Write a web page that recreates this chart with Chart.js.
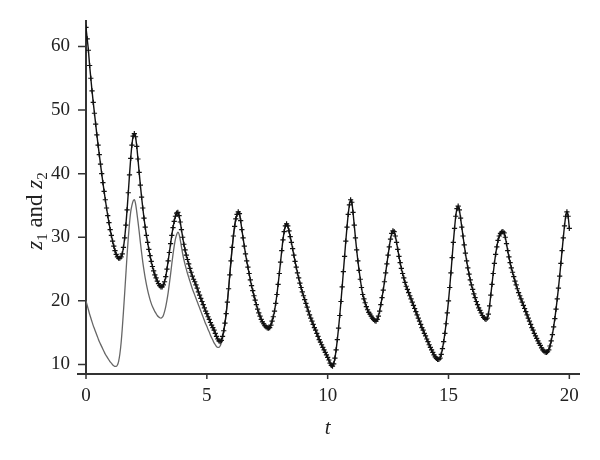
<!DOCTYPE html>
<html>
<head>
<meta charset="utf-8">
<script src="https://cdn.jsdelivr.net/npm/chart.js@4"></script>
<style>
  html, body { margin: 0; padding: 0; background: #fff; }
  canvas { display: block; }
</style>
</head>
<body>
<canvas id="c" width="600" height="460"></canvas>
<script>
// sample spacing of the time axis t
const timeStep = 0.05;

// z1 (black crosses), t = 0 .. 20
const z1Values = [
  63.0, 61.2, 59.4, 57.0, 55.0, 53.0, 51.2, 49.5, 47.8, 46.1,
  44.5, 43.0, 41.5, 40.0, 38.6, 37.2, 35.9, 34.6, 33.4, 32.3,
  31.2, 30.3, 29.4, 28.6, 27.9, 27.3, 26.9, 26.7, 26.7, 26.9,
  27.4, 28.4, 29.9, 31.9, 34.3, 37.0, 39.8, 42.4, 44.5, 45.9,
  46.3, 45.8, 44.3, 42.3, 40.2, 38.2, 36.3, 34.6, 33.0, 31.6,
  30.3, 29.2, 28.1, 27.1, 26.2, 25.4, 24.7, 24.1, 23.6, 23.1,
  22.7, 22.4, 22.2, 22.2, 22.5, 23.0, 23.8, 25.0, 26.3, 27.6,
  29.0, 30.3, 31.5, 32.5, 33.3, 33.8, 33.9, 33.4, 32.4, 31.2,
  30.0, 28.9, 28.0, 27.2, 26.5, 25.8, 25.1, 24.5, 23.9, 23.4,
  23.0, 22.5, 22.0, 21.4, 20.9, 20.4, 19.9, 19.4, 18.9, 18.4,
  18.0, 17.5, 17.1, 16.6, 16.2, 15.8, 15.4, 14.9, 14.4, 14.0,
  13.7, 13.6, 13.8, 14.4, 15.3, 16.5, 18.0, 19.8, 21.9, 24.1,
  26.3, 28.4, 30.2, 31.7, 32.9, 33.6, 34.0, 33.7, 32.6, 31.2,
  29.9, 28.6, 27.4, 26.3, 25.3, 24.3, 23.3, 22.4, 21.6, 20.8,
  20.1, 19.4, 18.7, 18.1, 17.6, 17.1, 16.7, 16.4, 16.1, 15.9,
  15.75, 15.7, 15.8, 16.2, 16.8, 17.5, 18.4, 19.6, 21.0, 22.6,
  24.3, 26.1, 27.9, 29.6, 30.9, 31.8, 32.1, 31.8, 31.0, 30.1,
  29.2, 28.2, 27.2, 26.2, 25.3, 24.4, 23.6, 22.8, 22.1, 21.4,
  20.8, 20.2, 19.6, 19.0, 18.4, 17.8, 17.3, 16.8, 16.3, 15.8,
  15.4, 14.9, 14.4, 13.9, 13.5, 13.1, 12.7, 12.3, 11.9, 11.5,
  11.1, 10.7, 10.2, 9.85, 9.75, 10.1, 11.0, 12.3, 13.9, 15.7,
  17.7, 19.9, 22.2, 24.6, 27.0, 29.4, 31.6, 33.6, 35.1, 35.9,
  35.5, 33.9, 31.9, 29.9, 28.0, 26.3, 24.8, 23.4, 22.1, 21.0,
  20.3, 19.7, 19.1, 18.6, 18.2, 17.9, 17.6, 17.3, 17.1, 16.9,
  16.8, 17.1, 17.6, 18.4, 19.4, 20.5, 21.7, 23.0, 24.4, 25.8,
  27.2, 28.5, 29.7, 30.6, 31.0, 30.9, 30.2, 29.2, 28.1, 27.0,
  26.0, 25.1, 24.3, 23.6, 22.9, 22.3, 21.8, 21.3, 20.8, 20.3,
  19.8, 19.3, 18.8, 18.3, 17.8, 17.3, 16.8, 16.3, 15.8, 15.4,
  14.9, 14.5, 14.0, 13.6, 13.1, 12.7, 12.3, 11.9, 11.5, 11.2,
  10.95, 10.8, 10.8, 11.0, 11.6, 12.5, 13.6, 14.9, 16.4, 18.1,
  20.0, 22.1, 24.4, 26.8, 29.2, 31.4, 33.3, 34.5, 34.9, 34.3,
  33.0, 31.6, 30.2, 28.8, 27.5, 26.3, 25.2, 24.2, 23.3, 22.5,
  21.8, 21.1, 20.5, 19.9, 19.4, 18.9, 18.5, 18.1, 17.7, 17.4,
  17.2, 17.1, 17.3, 17.9, 19.2, 20.9, 22.6, 24.3, 25.9, 27.3,
  28.5, 29.5, 30.2, 30.6, 30.8, 30.9, 30.7, 30.0, 29.0, 27.9,
  26.9, 26.0, 25.2, 24.5, 23.8, 23.1, 22.5, 21.9, 21.3, 20.8,
  20.3, 19.8, 19.3, 18.8, 18.3, 17.8, 17.3, 16.8, 16.3, 15.8,
  15.4, 14.9, 14.5, 14.1, 13.7, 13.3, 13.0, 12.6, 12.3, 12.1,
  11.95, 11.9, 12.0, 12.3, 12.9, 13.7, 14.7, 15.9, 17.2, 18.7,
  20.3, 22.0, 23.9, 25.9, 27.9, 29.9, 31.8, 33.3, 34.0, 33.3,
  31.4
];

// z2 (grey line), t = 0 .. 6.4 (afterwards it lies under z1)
const z2Values = [
  20.0, 19.3, 18.6, 17.9, 17.3, 16.7, 16.1, 15.6, 15.1, 14.6,
  14.1, 13.6, 13.2, 12.8, 12.4, 12.0, 11.6, 11.3, 11.0, 10.7,
  10.4, 10.2, 9.95, 9.8, 9.7, 9.7, 9.9, 10.5, 11.6, 13.3,
  15.6, 18.3, 21.2, 24.2, 27.2, 29.9, 32.2, 34.0, 35.0, 35.7,
  35.9, 35.3, 34.0, 32.5, 30.9, 29.2, 27.6, 26.1, 24.8, 23.6,
  22.6, 21.7, 20.9, 20.2, 19.6, 19.1, 18.7, 18.3, 18.0, 17.7,
  17.5, 17.35, 17.3, 17.4, 17.7, 18.3, 19.1, 20.1, 21.3, 22.7,
  24.2, 25.8, 27.3, 28.6, 29.7, 30.4, 30.8, 30.5, 29.6, 28.5,
  27.4, 26.5, 25.7, 25.0, 24.3, 23.7, 23.1, 22.5, 21.9, 21.4,
  20.9, 20.4, 19.9, 19.4, 18.9, 18.4, 17.9, 17.4, 16.9, 16.4,
  16.0, 15.5, 15.1, 14.6, 14.2, 13.8, 13.4, 13.1, 12.8, 12.7,
  12.7, 12.9, 13.4, 14.2, 15.2, 16.4, 18.0, 19.8, 21.9, 24.1,
  26.3, 28.4, 30.2, 31.7, 32.9, 33.6, 34.0, 33.7, 32.6
];

const xTickLabels = [0, 5, 10, 15, 20];
const yTickLabels = [10, 20, 30, 40, 50, 60];

const toPoints = arr => arr.map((v, i) => ({ x: +(i * timeStep).toFixed(2), y: v }));

const SERIF = '"Liberation Serif", "DejaVu Serif", serif';
const AXIS_COLOR = '#333';

const axisDecor = {
  id: 'axisDecor',
  afterDraw(chart) {
    const { ctx, chartArea: a, scales } = chart;
    const xs = scales.x, ys = scales.y;
    ctx.save();
    ctx.strokeStyle = AXIS_COLOR;
    ctx.lineWidth = 1.5;
    ctx.beginPath();
    xs.ticks.forEach(t => {
      const px = xs.getPixelForValue(t.value);
      const len = xTickLabels.includes(t.value) ? 5 : 3;
      ctx.moveTo(px, a.bottom);
      ctx.lineTo(px, a.bottom + len);
    });
    ys.ticks.forEach(t => {
      const py = ys.getPixelForValue(t.value);
      const len = yTickLabels.includes(t.value) ? 8 : 4;
      ctx.moveTo(a.left - len, py);
      ctx.lineTo(a.left, py);
    });
    ctx.stroke();
    ctx.lineWidth = 2;
    ctx.beginPath();
    ctx.moveTo(a.left - 9, a.bottom);
    ctx.lineTo(a.left, a.bottom);
    ctx.stroke();

    // y axis title: z1 and z2 (italic z, subscripts)
    const parts = [
      { s: 'z', font: 'italic 23px ' + SERIF, dy: 0 },
      { s: '1', font: '15px ' + SERIF, dy: 4.5 },
      { s: ' and ', font: '23px ' + SERIF, dy: 0 },
      { s: 'z', font: 'italic 23px ' + SERIF, dy: 0 },
      { s: '2', font: '15px ' + SERIF, dy: 4.5 }
    ];
    let total = 0;
    parts.forEach(p => { ctx.font = p.font; p.w = ctx.measureText(p.s).width; total += p.w; });
    ctx.translate(42, 211);
    ctx.rotate(-Math.PI / 2);
    ctx.fillStyle = '#222';
    ctx.textBaseline = 'alphabetic';
    ctx.textAlign = 'left';
    let cx = -total / 2;
    parts.forEach(p => { ctx.font = p.font; ctx.fillText(p.s, cx, p.dy); cx += p.w; });
    ctx.restore();

    // x axis title: t
    ctx.save();
    ctx.fillStyle = '#222';
    ctx.font = 'italic 21px ' + SERIF;
    ctx.textAlign = 'center';
    ctx.textBaseline = 'middle';
    ctx.fillText('t', xs.getPixelForValue(10), 428);
    ctx.restore();
  }
};

new Chart(document.getElementById('c'), {
  type: 'scatter',
  data: {
    datasets: [
      {
        label: 'z1',
        data: toPoints(z1Values),
        showLine: true,
        borderColor: '#111',
        borderWidth: 1.4,
        cubicInterpolationMode: 'monotone',
        pointStyle: 'cross',
        pointRadius: 2.6,
        pointBorderWidth: 1.2,
        pointBorderColor: '#111',
        backgroundColor: '#111',
        order: 0
      },
      {
        label: 'z2',
        data: toPoints(z2Values),
        showLine: true,
        borderColor: '#666',
        borderWidth: 1.3,
        pointRadius: 0,
        cubicInterpolationMode: 'monotone',
        order: 1
      }
    ]
  },
  options: {
    responsive: false,
    animation: false,
    devicePixelRatio: 1,
    layout: { padding: { left: 0, right: 21, top: 21, bottom: 0 } },
    plugins: { legend: { display: false }, tooltip: { enabled: false } },
    scales: {
      x: {
        type: 'linear',
        min: 0,
        max: 20.4,
        grid: { display: false },
        border: { display: true, color: AXIS_COLOR, width: 2 },
        ticks: {
          stepSize: 1,
          includeBounds: false,
          autoSkip: false,
          maxRotation: 0,
          padding: 3,
          color: '#222',
          font: { family: SERIF, size: 19 },
          callback: v => xTickLabels.includes(v) ? String(v) : null
        },
        afterFit: s => { s.height = 86; }
      },
      y: {
        type: 'linear',
        min: 8.5,
        max: 64,
        grid: { display: false },
        border: { display: true, color: AXIS_COLOR, width: 2 },
        ticks: {
          stepSize: 2,
          includeBounds: false,
          autoSkip: false,
          padding: 8,
          color: '#222',
          font: { family: SERIF, size: 19 },
          callback: v => yTickLabels.includes(v) ? String(v) : null
        },
        afterFit: s => { s.width = 86; }
      }
    }
  },
  plugins: [axisDecor]
});
</script>
</body>
</html>
